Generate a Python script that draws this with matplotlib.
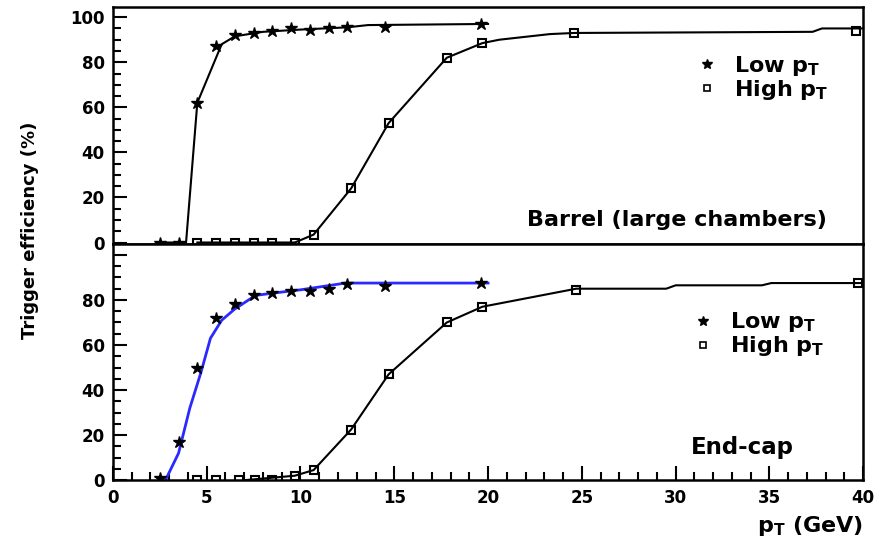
import matplotlib
matplotlib.use("Agg")
from matplotlib import pyplot as plt
from matplotlib.ticker import MultipleLocator, FuncFormatter
from matplotlib.lines import Line2D

plt.rcParams['font.family'] = ['DejaVu Sans']
plt.rcParams['font.weight'] = 'bold'
plt.rcParams['mathtext.default'] = 'regular'

# barrel (large chambers)
barrel_low_x = [2.5, 3.5, 4.5, 5.5, 6.5, 7.5, 8.5, 9.5, 10.5, 11.5, 12.5, 14.5, 19.6]
barrel_low_y = [0, 0, 62, 87, 92, 93, 94, 95, 94.5, 95, 95.5, 95.5, 97]
barrel_high_x = [4.5, 5.5, 6.5, 7.5, 8.5, 9.7, 10.7, 12.7, 14.7, 17.8, 19.7, 24.6, 39.6]
barrel_high_y = [0, 0, 0, 0, 0, 0, 3.5, 24, 53, 82, 88.5, 93, 94]

# fitted curves for the barrel
barrel_low_fit_x = [2.5, 3.9, 4.5, 5.8, 6.5, 8.0, 10.0, 12.5, 13.6, 20.0]
barrel_low_fit_y = [0, 0, 62, 88, 91.5, 93.5, 94.5, 95.5, 96.5, 97]
barrel_high_fit_x = [4.5, 9.7, 10.7, 12.7, 14.7, 17.8, 19.7, 20.6, 23.3, 24.6, 37.3, 37.8, 40]
barrel_high_fit_y = [0, 0, 3.5, 24, 53, 82, 88.5, 90, 92.5, 93, 93.5, 95, 95]

# end-cap
endcap_low_x = [2.5, 3.5, 4.5, 5.5, 6.5, 7.5, 8.5, 9.5, 10.5, 11.5, 12.5, 14.5, 19.6]
endcap_low_y = [1, 17, 50, 72, 78, 82, 83, 84, 84, 85, 87, 86, 87.5]
endcap_high_x = [4.5, 5.5, 6.7, 7.6, 8.5, 9.7, 10.7, 12.7, 14.7, 17.8, 19.7, 24.7, 39.7]
endcap_high_y = [0, 0, 0, 0, 0, 2, 4.5, 22.5, 47, 70, 77, 84.5, 87.5]

endcap_low_fit_x = [2.8, 3.5, 4.1, 4.7, 5.2, 5.8, 6.5, 7.6, 8.5, 10.0, 12.4, 20.0]
endcap_low_fit_y = [0, 12, 32, 48, 63, 71, 76, 82, 83, 84.5, 87.5, 87.5]
endcap_high_fit_x = [7.0, 9.7, 10.7, 12.7, 14.7, 17.8, 19.7, 24.7, 29.5, 30.0, 34.6, 35.1, 40]
endcap_high_fit_y = [0, 2, 4.5, 22.5, 47, 70, 77, 85, 85, 86.5, 86.5, 87.5, 87.5]


def style_axis(ax, show_x):
    ax.set_xlim(0, 40)
    ax.set_ylim(-0.5, 104.5)
    ax.yaxis.set_major_locator(MultipleLocator(20))
    ax.yaxis.set_minor_locator(MultipleLocator(5))
    ax.xaxis.set_major_locator(MultipleLocator(5))
    ax.xaxis.set_minor_locator(MultipleLocator(1))
    ax.tick_params(which='both', direction='in', top=False, right=False,
                   width=1.5, labelsize=12, pad=6)
    ax.tick_params(which='major', length=10)
    ax.tick_params(which='minor', length=6)
    if not show_x:
        ax.tick_params(axis='x', which='both', bottom=False, labelbottom=False)
    for s in ax.spines.values():
        s.set_linewidth(1.8)


def draw_legend(ax, anchor):
    handles = [
        Line2D([], [], ls='none', marker='*', color='black', ms=7),
        Line2D([], [], ls='none', marker='s', mfc='none', mec='black', ms=4, mew=1.2),
    ]
    ax.legend(handles, ['Low p$_T$', 'High p$_T$'], loc='upper left',
              bbox_to_anchor=anchor, frameon=False, fontsize=16,
              handlelength=0.8, handletextpad=0.8, labelspacing=0.0,
              borderpad=0)


fig, (ax1, ax2) = plt.subplots(2, 1, sharex=True, figsize=(8.89, 5.42), dpi=100)
fig.subplots_adjust(left=0.127, right=0.971, top=0.987, bottom=0.114, hspace=0)

# top: barrel
ax1.plot(barrel_low_fit_x, barrel_low_fit_y, color='black', lw=1.5, clip_on=False)
ax1.plot(barrel_high_fit_x, barrel_high_fit_y, color='black', lw=1.5, clip_on=False)
ax1.plot(barrel_low_x, barrel_low_y, ls='none', marker='*', color='black', ms=9, clip_on=False)
ax1.plot(barrel_high_x, barrel_high_y, ls='none', marker='s', mfc='none', mec='black',
         ms=6, mew=1.5, clip_on=False)
style_axis(ax1, False)
draw_legend(ax1, (0.765, 0.85))
ax1.text(0.952, 0.10, 'Barrel (large chambers)', transform=ax1.transAxes,
         ha='right', va='center', fontsize=16)

# bottom: end-cap
ax2.plot(endcap_low_fit_x, endcap_low_fit_y, color='#2a2aff', lw=2.0)
ax2.plot(endcap_high_fit_x, endcap_high_fit_y, color='black', lw=1.5)
ax2.plot(endcap_low_x, endcap_low_y, ls='none', marker='*', color='black', ms=9)
ax2.plot(endcap_high_x, endcap_high_y, ls='none', marker='s', mfc='none', mec='black',
         ms=6, mew=1.5)
style_axis(ax2, True)
ax2.set_ylim(0, 105)
ax2.yaxis.set_major_formatter(FuncFormatter(lambda v, p: '' if v > 90 else '%d' % v))
draw_legend(ax2, (0.76, 0.765))
ax2.text(0.907, 0.14, 'End-cap', transform=ax2.transAxes,
         ha='right', va='center', fontsize=16.5)

fig.text(0.034, 0.575, 'Trigger efficiency (%)', rotation=90, ha='center',
         va='center', fontsize=13)
fig.text(0.971, 0.03, 'p$_T$ (GeV)', ha='right', va='center', fontsize=16)

fig.savefig('out.png', dpi=100)
